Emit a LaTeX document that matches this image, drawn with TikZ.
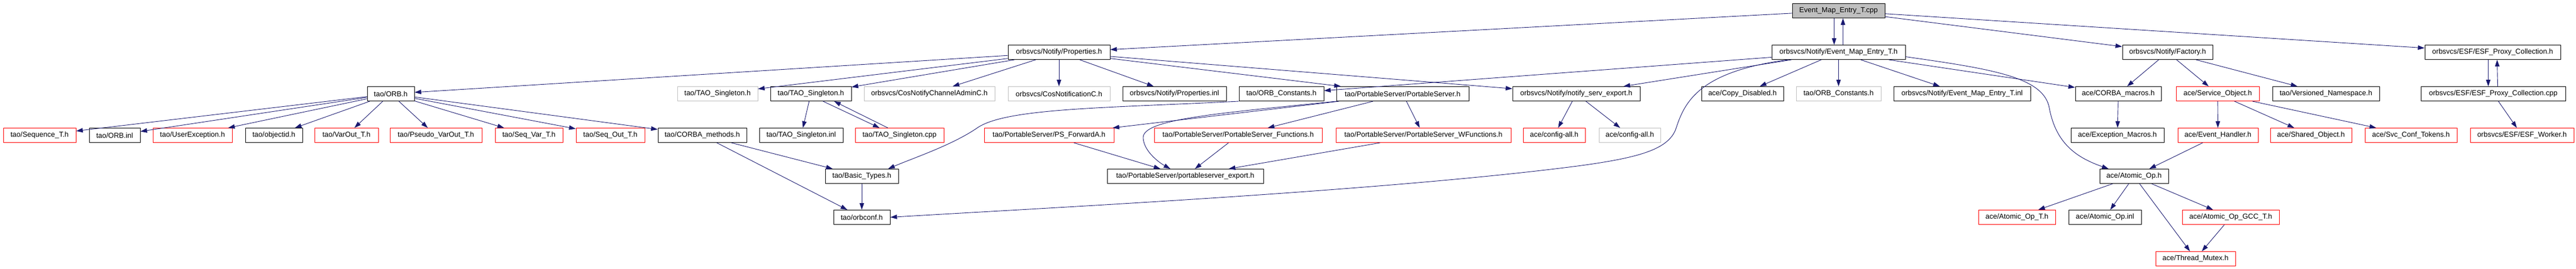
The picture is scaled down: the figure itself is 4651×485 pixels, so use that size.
\documentclass[tikz,border=0pt]{standalone}
\usepackage{fontspec}
\setmainfont{Liberation Sans}
\usepackage{tikz}
\usepackage{xcolor}
\usetikzlibrary{arrows.meta,calc}
\definecolor{edgeblue}{HTML}{191970}
\definecolor{boxgray}{HTML}{BFBFBF}
\tikzset{
    %Define style for boxes
    hdr/.style={
        rectangle,
        draw=black, line width=1pt,
        minimum height=26pt,
        inner sep=0pt,
        align=center,
        font=\fontsize{13}{15}\selectfont,
    },
    redhdr/.style={
        hdr,
        draw=red,
    },
    grayhdr/.style={
        hdr,
        draw=boxgray,
    },
    rootfile/.style={
        hdr,
        fill=boxgray,
    },
    dep/.style={
        draw=edgeblue,
        line width=0.9pt,
        -{Triangle[length=12pt,width=8pt]},
    },
}

\begin{document}
\begin{tikzpicture}[x=1pt,y=-1pt]
		\useasboundingbox (0,0) rectangle (4651,485);

		\node[rootfile, minimum width=167] (cpp) at (3319.5,19.5) {Event\_Map\_Entry\_T.cpp};

		\node[hdr, minimum width=184] (props) at (1912,94.5) {orbsvcs/Notify/Properties.h};
		\node[hdr, minimum width=241] (emeth) at (3319.5,94.5) {orbsvcs/Notify/Event\_Map\_Entry\_T.h};
		\node[hdr, minimum width=163] (factory) at (3913.5,94.5) {orbsvcs/Notify/Factory.h};
		\node[hdr, minimum width=245] (esfh) at (4500.5,94.5) {orbsvcs/ESF/ESF\_Proxy\_Collection.h};

		\node[hdr, minimum width=85] (orbh) at (705.5,169.5) {tao/ORB.h};
		\node[grayhdr, minimum width=145] (singg) at (1295.5,169.5) {tao/TAO\_Singleton.h};
		\node[hdr, minimum width=146] (singh) at (1464,169.5) {tao/TAO\_Singleton.h};
		\node[grayhdr, minimum width=236] (cosadmin) at (1678,169.5) {orbsvcs/CosNotifyChannelAdminC.h};
		\node[grayhdr, minimum width=184] (cosnotif) at (1912,169.5) {orbsvcs/CosNotificationC.h};
		\node[hdr, minimum width=187] (propsinl) at (2120.5,169.5) {orbsvcs/Notify/Properties.inl};
		\node[hdr, minimum width=153] (orbconst) at (2313.5,169.5) {tao/ORB\_Constants.h};
		\node[hdr, minimum width=239] (psh) at (2532.5,169.5) {tao/PortableServer/PortableServer.h};
		\node[hdr, minimum width=230] (nse) at (2846,169.5) {orbsvcs/Notify/notify\_serv\_export.h};
		\node[hdr, minimum width=148] (copydis) at (3146,169.5) {ace/Copy\_Disabled.h};
		\node[grayhdr, minimum width=153] (orbconstg) at (3319.5,169.5) {tao/ORB\_Constants.h};
		\node[hdr, minimum width=247] (emetinl) at (3542.5,169.5) {orbsvcs/Notify/Event\_Map\_Entry\_T.inl};
		\node[hdr, minimum width=155] (corbamac) at (3824.5,169.5) {ace/CORBA\_macros.h};
		\node[redhdr, minimum width=150] (svcobj) at (4004,169.5) {ace/Service\_Object.h};
		\node[hdr, minimum width=193] (versns) at (4199.5,169.5) {tao/Versioned\_Namespace.h};
		\node[hdr, minimum width=261] (esfcpp) at (4501.5,169.5) {orbsvcs/ESF/ESF\_Proxy\_Collection.cpp};

		\node[redhdr, minimum width=131] (seqt) at (71.5,244.5) {tao/Sequence\_T.h};
		\node[hdr, minimum width=92] (orbinl) at (207,244.5) {tao/ORB.inl};
		\node[redhdr, minimum width=143] (userexc) at (347.5,244.5) {tao/UserException.h};
		\node[hdr, minimum width=103] (objid) at (494.5,244.5) {tao/objectid.h};
		\node[redhdr, minimum width=115] (varout) at (625.5,244.5) {tao/VarOut\_T.h};
		\node[redhdr, minimum width=166] (pseudo) at (787,244.5) {tao/Pseudo\_VarOut\_T.h};
		\node[redhdr, minimum width=122] (seqvar) at (955,244.5) {tao/Seq\_Var\_T.h};
		\node[redhdr, minimum width=124] (seqout) at (1102,244.5) {tao/Seq\_Out\_T.h};
		\node[hdr, minimum width=160] (corbameth) at (1268,244.5) {tao/CORBA\_methods.h};
		\node[hdr, minimum width=151] (singinl) at (1446.5,244.5) {tao/TAO\_Singleton.inl};
		\node[redhdr, minimum width=160] (singcpp) at (1624,244.5) {tao/TAO\_Singleton.cpp};
		\node[redhdr, minimum width=234] (psfwd) at (1894,244.5) {tao/PortableServer/PS\_ForwardA.h};
		\node[redhdr, minimum width=303] (psfunc) at (2235.5,244.5) {tao/PortableServer/PortableServer\_Functions.h};
		\node[redhdr, minimum width=316] (pswfunc) at (2570,244.5) {tao/PortableServer/PortableServer\_WFunctions.h};
		\node[redhdr, minimum width=112] (cfgall) at (2806,244.5) {ace/config-all.h};
		\node[grayhdr, minimum width=111] (cfgallg) at (2942.5,244.5) {ace/config-all.h};
		\node[hdr, minimum width=168] (excmac) at (3823,244.5) {ace/Exception\_Macros.h};
		\node[redhdr, minimum width=145] (evh) at (4004.5,244.5) {ace/Event\_Handler.h};
		\node[redhdr, minimum width=147] (shobj) at (4172.5,244.5) {ace/Shared\_Object.h};
		\node[redhdr, minimum width=166] (svcconf) at (4353,244.5) {ace/Svc\_Conf\_Tokens.h};
		\node[redhdr, minimum width=187] (esfworker) at (4553.5,244.5) {orbsvcs/ESF/ESF\_Worker.h};

		\node[hdr, minimum width=132] (basict) at (1556,318.5) {tao/Basic\_Types.h};
		\node[hdr, minimum width=282] (psexp) at (2140,318.5) {tao/PortableServer/portableserver\_export.h};
		\node[hdr, minimum width=124] (atomic) at (3853,318.5) {ace/Atomic\_Op.h};

		\node[hdr, minimum width=102] (orbconf) at (1556,392.5) {tao/orbconf.h};
		\node[redhdr, minimum width=139] (atomict) at (3641.5,392.5) {ace/Atomic\_Op\_T.h};
		\node[hdr, minimum width=131] (atomicinl) at (3800.5,392.5) {ace/Atomic\_Op.inl};
		\node[redhdr, minimum width=175] (atomicgcc) at (4027.5,392.5) {ace/Atomic\_Op\_GCC\_T.h};

		\node[redhdr, minimum width=144] (mutex) at (3964,467.5) {ace/Thread\_Mutex.h};

		\draw[dep] (cpp) -- (props);
		\draw[dep] ([xshift=-8pt]cpp.south) -- ([xshift=-8pt]emeth.north);
		\draw[dep] ([xshift=8pt]emeth.north) -- ([xshift=8pt]cpp.south);
		\draw[dep] (cpp) -- (factory);
		\draw[dep] (cpp) -- (esfh);

		\draw[dep] (props) -- (orbh);
		\draw[dep] (props) -- (singg);
		\draw[dep] (props) -- (singh);
		\draw[dep] (props) -- (cosadmin);
		\draw[dep] (props) -- (cosnotif);
		\draw[dep] (props) -- (propsinl);
		\draw[dep] (props) -- (psh);
		\draw[dep] (props) -- (nse);

		\draw[dep] (emeth) -- (orbconst);
		\draw[dep] (emeth) -- (nse);
		\draw[dep] (emeth) -- (copydis);
		\draw[dep] (emeth) -- (orbconstg);
		\draw[dep] (emeth) -- (emetinl);
		\draw[dep] (emeth) -- (corbamac);
		\draw[dep] ([xshift=-91pt]emeth.south) .. controls (3060,130) and (3040,190) .. (3025,235)
			.. controls (3010,270) and (2960,285) .. (2848,300)
			.. controls (2500,345) and (1900,375) .. (orbconf.east);
		\draw[dep] ([yshift=-8pt]emeth.east) .. controls (3600,125) and (3690,140) .. (3700,195)
			.. controls (3712,260) and (3750,285) .. ([xshift=-46pt]atomic.north);

		\draw[dep] (factory) -- (corbamac);
		\draw[dep] (factory) -- (svcobj);
		\draw[dep] (factory) -- (versns);

		\draw[dep] ([xshift=-8pt]esfh.south) -- ([xshift=-9pt]esfcpp.north);
		\draw[dep] ([xshift=8pt]esfcpp.north) -- ([xshift=8pt]esfh.south);
		\draw[dep] (esfcpp) -- (esfworker);

		\draw[dep] (orbh) -- (seqt);
		\draw[dep] (orbh) -- (orbinl);
		\draw[dep] (orbh) -- (userexc);
		\draw[dep] (orbh) -- (objid);
		\draw[dep] (orbh) -- (varout);
		\draw[dep] (orbh) -- (pseudo);
		\draw[dep] (orbh) -- (seqvar);
		\draw[dep] (orbh) -- (seqout);
		\draw[dep] (orbh) -- (corbameth);

		\draw[dep] (singh) -- (singinl);
		\draw[dep] ([xshift=22pt]singh.south) -- ([xshift=-36pt]singcpp.north);
		\draw[dep] ([xshift=-21pt]singcpp.north) -- ([xshift=42pt]singh.south);

		\draw[dep] (corbameth) -- (basict);
		\draw[dep] (corbameth) -- (orbconf);
		\draw[dep] (basict) -- (orbconf);
		\draw[dep] (orbconst.south west) .. controls (2000,195) and (1820,195) .. (1766,230)
			.. controls (1720,262) and (1650,285) .. ([xshift=-19pt]basict.north east);

		\draw[dep] (psh) -- (psfwd);
		\draw[dep] (psh.south west) .. controls (2200,205) and (2060,215) .. (2064,250)
			.. controls (2066,275) and (2095,295) .. ([xshift=-27pt]psexp.north);
		\draw[dep] (psh) -- (psfunc);
		\draw[dep] (psh) -- (pswfunc);
		\draw[dep] (psfwd) -- (psexp);
		\draw[dep] (psfunc) -- (psexp);
		\draw[dep] (pswfunc) -- (psexp);

		\draw[dep] (nse) -- (cfgall);
		\draw[dep] (nse) -- (cfgallg);

		\draw[dep] (corbamac) -- (excmac);
		\draw[dep] (svcobj) -- (evh);
		\draw[dep] (svcobj) -- (shobj);
		\draw[dep] (svcobj) -- (svcconf);
		\draw[dep] (evh) -- (atomic);

		\draw[dep] (atomic) -- (atomict);
		\draw[dep] (atomic) -- (atomicinl);
		\draw[dep] (atomic) -- (mutex);
		\draw[dep] (atomic) -- (atomicgcc);
		\draw[dep] (atomicgcc) -- (mutex);
	\end{tikzpicture}
\end{document}
